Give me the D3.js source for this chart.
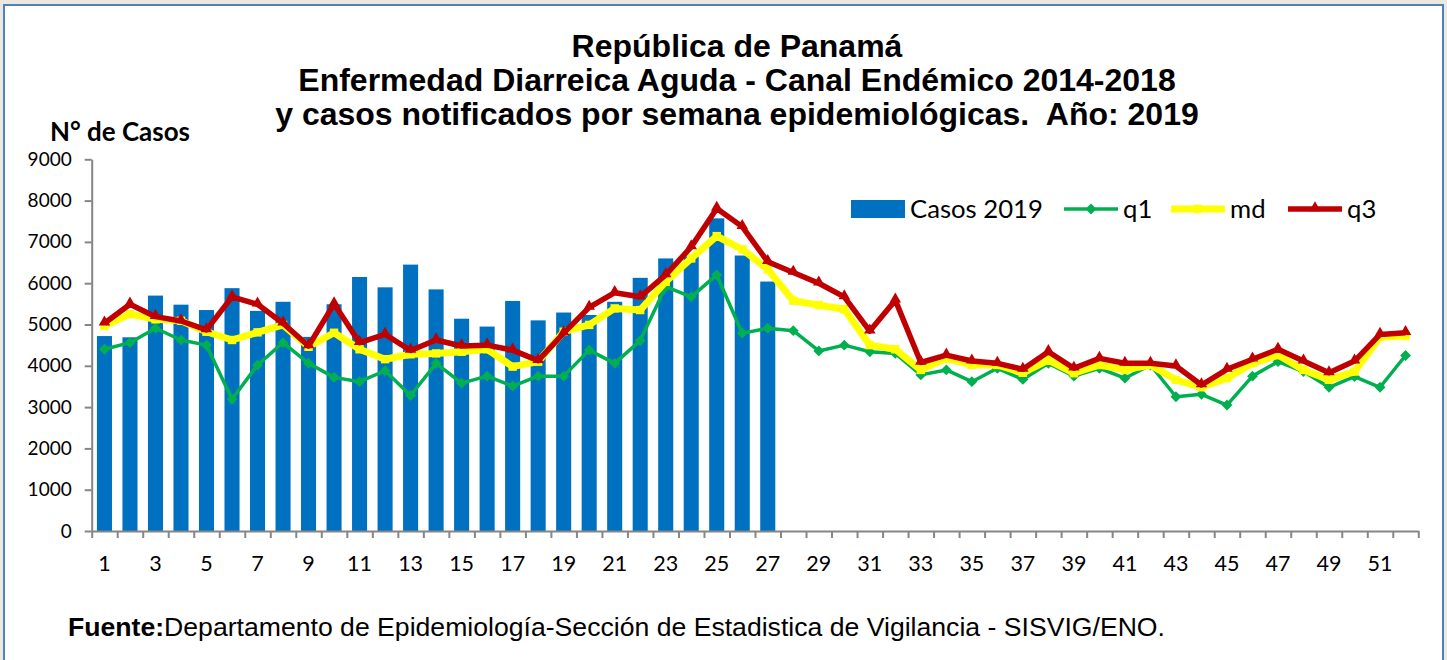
<!DOCTYPE html>
<html>
<head>
<meta charset="utf-8">
<script src="https://cdn.jsdelivr.net/npm/d3@7"></script>
<style>
  body { margin: 0; background: #ebe8e0; }
  svg { display: block; }
  .keep-space { white-space: pre; }
</style>
</head>
<body>
<svg id="chart"></svg>
<script>
// ---- data ----
const weeks = d3.range(1, 53);
const yTicks = [0, 1000, 2000, 3000, 4000, 5000, 6000, 7000, 8000, 9000];
const titleLines = [
  "República de Panamá",
  "Enfermedad Diarreica Aguda - Canal Endémico 2014-2018",
  "y casos notificados por semana epidemiológicas.  Año: 2019"
];
const seriesNames = ["Casos 2019", "q1", "md", "q3"];

// weekly cases 2019 (weeks 1-27)
const casos2019 = [4720, 4690, 5700, 5480, 5350, 5880, 5330, 5550, 4700, 5490,
  6150, 5900, 6450, 5850, 5140, 4950, 5570, 5100, 5290, 5230,
  5550, 6130, 6600, 6650, 7570, 6670, 6040];

// endemic channel 2014-2018 (weeks 1-52)
const q1 = [4400, 4560, 4910, 4625, 4500, 3190, 4020, 4560, 4060, 3720,
  3615, 3880, 3280, 4060, 3580, 3750, 3510, 3750, 3750, 4380,
  4060, 4610, 5915, 5670, 6200, 4790, 4910, 4850, 4360, 4500,
  4340, 4300, 3780, 3900, 3615, 3940, 3670, 4060, 3750, 3940,
  3700, 4020, 3250, 3310, 3050, 3750, 4100, 3860, 3480, 3740,
  3480, 4250];
const md = [4965, 5250, 5125, 5090, 4825, 4625, 4810, 4990, 4460, 4800,
  4400, 4160, 4280, 4300, 4340, 4400, 3980, 4100, 4825, 4990,
  5390, 5350, 6035, 6600, 7140, 6820, 6335, 5576, 5470, 5370,
  4500, 4400, 3900, 4180, 4020, 4020, 3830, 4140, 3820, 4020,
  3900, 4020, 3660, 3480, 3700, 4060, 4260, 3900, 3660, 3860,
  4700, 4720];
const q3 = [5030, 5490, 5190, 5085, 4870, 5670, 5490, 5030, 4480, 5500,
  4560, 4760, 4370, 4625, 4480, 4500, 4380, 4125, 4790, 5415,
  5770, 5670, 6200, 6880, 7810, 7370, 6520, 6260, 6000, 5670,
  4840, 5590, 4080, 4260, 4115, 4060, 3915, 4340, 3940, 4180,
  4060, 4060, 3995, 3535, 3915, 4160, 4400, 4115, 3830, 4115,
  4760, 4800];

const sourceBold = "Fuente:";
const sourceText = "Departamento de Epidemiología-Sección de Estadistica de Vigilancia - SISVIG/ENO.";

// ---- layout ----
const W = 1447, H = 660;
const plot = {left: 91.7, right: 1418.3, top: 159.3, bottom: 531};
const sansFont = "Lato, 'Open Sans', sans-serif";
const arialFont = "'Liberation Sans', Arial, sans-serif";

const colors = {bar: "#0070c0", q1: "#00b050", md: "#ffff00", q3: "#c00000", axis: "#868686"};

const svg = d3.select("#chart").attr("width", W).attr("height", H);

// scale a text's font size so its rendered width matches w
function fitWidth(sel, w) {
  const fs = parseFloat(sel.attr("font-size"));
  const cur = sel.node().getComputedTextLength();
  sel.attr("font-size", fs * w / cur);
  return fs * w / cur;
}

// frame
svg.append("rect").attr("width", W).attr("height", H).attr("fill", "#ebe8e0");
svg.append("rect")
  .attr("x", 4).attr("y", 5).attr("width", 1439).attr("height", H)
  .attr("fill", "#fff").attr("stroke", "#4f81bd").attr("stroke-width", 2);

// scales
const x = d3.scaleBand().domain(weeks).range([plot.left, plot.right])
  .paddingInner(0.41).paddingOuter(0.205);
const xEdge = d3.scaleLinear().domain([0, 52]).range([plot.left, plot.right]);
const y = d3.scaleLinear().domain([0, 9000]).range([plot.bottom, plot.top]);
const cx = w => x(w) + x.bandwidth() / 2;

// title
const title = svg.append("g").attr("font-family", arialFont).attr("font-weight", "bold")
  .attr("text-anchor", "middle").attr("fill", "#000");
const tl = title.selectAll("text").data(titleLines).join("text")
  .attr("class", "keep-space")
  .attr("x", 737).attr("y", (d, i) => 56.5 + i * 34.3)
  .attr("font-size", 26).text(d => d);
const tfs = fitWidth(d3.select(tl.nodes()[2]), 924);
tl.attr("font-size", tfs);

// y axis title
const yTitle = svg.append("text").attr("x", 50).attr("y", 141)
  .attr("font-family", sansFont).attr("font-weight", "bold").attr("font-size", 24)
  .text("N° de Casos");
fitWidth(yTitle, 140);

// bars
svg.append("g").selectAll("rect").data(casos2019).join("rect")
  .attr("x", (d, i) => x(weeks[i]))
  .attr("width", x.bandwidth())
  .attr("y", d => y(d))
  .attr("height", d => y(0) - y(d) + 0.7)
  .attr("fill", colors.bar);

// axes
const yAxis = d3.axisLeft(y).tickValues(yTicks).tickFormat(d3.format("d"))
  .tickSize(7).tickSizeOuter(0).tickPadding(13);
const gy = svg.append("g").attr("transform", `translate(${plot.left},0)`).call(yAxis);
gy.selectAll("text").attr("font-family", sansFont).attr("font-size", 19).attr("fill", "#000");

const gxTicks = svg.append("g").attr("transform", `translate(0,${plot.bottom})`)
  .call(d3.axisBottom(xEdge).tickValues(d3.range(0, 53)).tickSize(7).tickSizeOuter(0).tickFormat(""));
const gxLabels = svg.append("g").attr("transform", `translate(0,${plot.bottom})`)
  .call(d3.axisBottom(x).tickValues(weeks.filter(w => w % 2 === 1)).tickSize(0).tickPadding(25));
gxLabels.select(".domain").remove();
gxLabels.selectAll("text").attr("font-family", sansFont).attr("font-size", 21.5).attr("fill", "#000");

[gy, gxTicks].forEach(g => {
  g.selectAll(".domain, line").attr("stroke", colors.axis).attr("stroke-width", 2);
});

// marker shapes
const symbols = {
  q1: d3.symbol().type(d3.symbolDiamond2).size(75),
  md: d3.symbol().type(d3.symbolSquare2).size(90),
  q3: d3.symbol().type(d3.symbolTriangle2).size(95)
};
const lineWidth = {q1: 3.5, md: 7, q3: 5.5};

const line = d3.line().x((d, i) => cx(weeks[i])).y(d => y(d));
const series = [["q1", q1], ["md", md], ["q3", q3]];

series.forEach(([name, vals]) => {
  const g = svg.append("g");
  g.append("path").datum(vals)
    .attr("d", line)
    .attr("fill", "none")
    .attr("stroke", colors[name])
    .attr("stroke-width", lineWidth[name])
    .attr("stroke-linejoin", "round");
  g.selectAll("path.mk").data(vals).join("path")
    .attr("class", "mk")
    .attr("d", symbols[name])
    .attr("transform", (d, i) => `translate(${cx(weeks[i])},${y(d) + (name === "q3" ? -1 : 0)})`)
    .attr("fill", colors[name]);
});

// legend
const legend = svg.append("g").attr("font-family", sansFont).attr("fill", "#000");
legend.append("rect").attr("x", 851).attr("y", 200).attr("width", 54).attr("height", 18)
  .attr("fill", colors.bar);
const legText = legend.append("text").attr("x", 910).attr("y", 217.5).attr("font-size", 26)
  .text(seriesNames[0]);
const lfs = fitWidth(legText, 133);

const legItems = [
  {name: "q1", x0: 1064, tx: 1123},
  {name: "md", x0: 1171, tx: 1230},
  {name: "q3", x0: 1288, tx: 1347}
];
legItems.forEach(it => {
  legend.append("line")
    .attr("x1", it.x0).attr("x2", it.x0 + 54).attr("y1", 209).attr("y2", 209)
    .attr("stroke", colors[it.name]).attr("stroke-width", lineWidth[it.name]);
  legend.append("path").attr("d", symbols[it.name])
    .attr("transform", `translate(${it.x0 + 27},${209 + (it.name === "q3" ? -1 : 0)})`)
    .attr("fill", colors[it.name]);
  legend.append("text").attr("x", it.tx).attr("y", 217.5).attr("font-size", lfs).text(it.name);
});

// source note
const src = svg.append("text").attr("x", 68).attr("y", 636)
  .attr("font-family", arialFont).attr("font-size", 22).attr("fill", "#000");
src.append("tspan").attr("font-weight", "bold").text(sourceBold);
src.append("tspan").text(sourceText);
fitWidth(src, 1097);
</script>
</body>
</html>
